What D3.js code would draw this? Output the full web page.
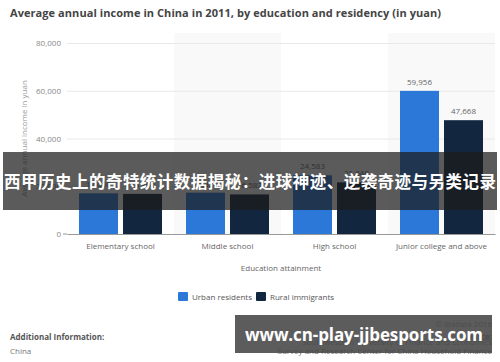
<!DOCTYPE html>
<html>
<head>
<meta charset="utf-8">
<script src="https://cdn.jsdelivr.net/npm/d3@7"></script>
<style>
    html, body { margin:0; padding:0; background:#fff; }
    svg { display:block; font-family:"Open Sans", "Noto Sans", sans-serif; }
</style>
</head>
<body>
<div id="chart"></div>
<script>
// data
var categories = ['Elementary school', 'Middle school', 'High school', 'Junior college and above'];
var seriesNames = ['Urban residents', 'Rural immigrants'];
var seriesColors = ['#2c78d8', '#12263f'];
var urbanValues = [17050, 17320, 24583, 59956];
var ruralValues = [16800, 16582, 21640, 47668];
var yTicks = [0, 20000, 40000, 60000, 80000];

var width = 500, height = 362;
var margin = {left:67, right:5, top:43, bottom:128};

var $svg = d3.select('#chart').append('svg')
    .attr('width', width)
    .attr('height', height);

var scaleX = d3.scaleBand().domain(categories).range([margin.left, width - margin.right]);
var scaleSeries = d3.scaleBand().domain(seriesNames).range([0, scaleX.bandwidth()])
    .paddingInner(0.114).paddingOuter(0.273);
var scaleY = d3.scaleLinear().domain([0, 80000]).range([height - margin.bottom, margin.top]);

//title
$svg.append('text')
    .attr('x', 10).attr('y', 17)
    .attr('textLength', 431)
    .style('font-size', '11px').style('font-weight', 'bold').style('fill', '#444')
    .text('Average annual income in China in 2011, by education and residency (in yuan)');

//alternating bands
$svg.append('g').selectAll('rect')
    .data(categories.filter(function(d, i){ return i % 2 === 1; }))
    .enter().append('rect')
    .attr('x', function(d){ return scaleX(d); })
    .attr('y', 33)
    .attr('width', scaleX.bandwidth())
    .attr('height', scaleY(0) - 33)
    .style('fill', '#f9f9f9');

//axis-y
var axisY = d3.axisLeft(scaleY).tickValues(yTicks)
    .tickSize(-(width - margin.left - margin.right))
    .tickPadding(6)
    .tickFormat(d3.format(','));
var $axisY = $svg.append('g')
    .attr('transform', 'translate(' + margin.left + ',0)')
    .call(axisY);
$axisY.select('.domain').remove();
$axisY.selectAll('line').style('stroke', '#e8e8e8');
$axisY.selectAll('text').style('font-size', '8px').style('fill', '#888').style('font-family', '"Open Sans", sans-serif');
// small tick for zero
$svg.append('line')
    .attr('x1', margin.left - 4).attr('x2', margin.left)
    .attr('y1', scaleY(0)).attr('y2', scaleY(0))
    .style('stroke', '#999');

$svg.append('text')
    .attr('transform', 'translate(27,' + ((scaleY(0) + margin.top) / 2) + ') rotate(-90)')
    .attr('text-anchor', 'middle')
    .style('font-size', '8px').style('fill', '#999')
    .text('Average annual income in yuan');

//bars
var rows = categories.map(function(c, i){
    return [
        {cat:c, name:seriesNames[0], value:urbanValues[i], color:seriesColors[0]},
        {cat:c, name:seriesNames[1], value:ruralValues[i], color:seriesColors[1]}
    ];
});
var $groups = $svg.append('g').selectAll('g')
    .data(rows).enter().append('g')
    .attr('transform', function(d){ return 'translate(' + scaleX(d[0].cat) + ',0)'; });
$groups.selectAll('rect')
    .data(function(d){ return d; })
    .enter().append('rect')
    .attr('x', function(d){ return scaleSeries(d.name); })
    .attr('y', function(d){ return scaleY(d.value); })
    .attr('width', scaleSeries.bandwidth())
    .attr('height', function(d){ return scaleY(0) - scaleY(d.value); })
    .style('fill', function(d){ return d.color; });
$groups.selectAll('text')
    .data(function(d){ return d; })
    .enter().append('text')
    .attr('x', function(d){ return scaleSeries(d.name) + scaleSeries.bandwidth() / 2; })
    .attr('y', function(d){ return scaleY(d.value) - 6; })
    .attr('text-anchor', 'middle')
    .style('font-size', '8px').style('fill', '#666')
    .text(function(d){ return d3.format(',')(d.value); });

//axis-x
var axisX = d3.axisBottom(scaleX).tickSize(0).tickPadding(9);
var $axisX = $svg.append('g')
    .attr('transform', 'translate(0,' + scaleY(0) + ')')
    .call(axisX);
$axisX.select('.domain').style('stroke', '#999');
$axisX.selectAll('text').style('font-size', '8px').style('fill', '#666').style('font-family', '"Open Sans", sans-serif');

$svg.append('text')
    .attr('x', (margin.left + width - margin.right) / 2).attr('y', 271)
    .attr('text-anchor', 'middle')
    .style('font-size', '8px').style('fill', '#666')
    .text('Education attainment');

//legend
var legendX = [178, 256];
var $legend = $svg.append('g').selectAll('g')
    .data(seriesNames).enter().append('g')
    .attr('transform', function(d, i){ return 'translate(' + legendX[i] + ',292)'; });
$legend.append('rect')
    .attr('width', 10).attr('height', 9).attr('rx', 1)
    .style('fill', function(d, i){ return seriesColors[i]; });
$legend.append('text')
    .attr('x', 14).attr('y', 8)
    .style('font-size', '8px').style('fill', '#555')
    .text(function(d){ return d; });

//footer
$svg.append('text').attr('x', 10).attr('y', 340)
    .style('font-size', '8px').style('font-weight', 'bold').style('fill', '#555')
    .text('Additional Information:');
$svg.append('text').attr('x', 10).attr('y', 354)
    .style('font-size', '8px').style('fill', '#777')
    .text('China');
var footRight = [
    {y:327, text:'© Statista 2016', bold:false},
    {y:340, text:'Source:', bold:true},
    {y:345, text:'Southwestern University of Finance and Economics', bold:false},
    {y:354, text:'Survey and Research Center for China Household Finance', bold:false}
];
$svg.append('g').selectAll('text')
    .data(footRight).enter().append('text')
    .attr('x', 492).attr('y', function(d){ return d.y; })
    .attr('text-anchor', 'end')
    .style('font-size', '8px')
    .style('font-weight', function(d){ return d.bold ? 'bold' : 'normal'; })
    .style('fill', '#777')
    .text(function(d){ return d.text; });

//overlay banner
$svg.append('rect')
    .attr('x', 3).attr('y', 152).attr('width', 494).attr('height', 58)
    .style('fill', 'rgba(28,28,28,0.72)');
$svg.append('text')
    .attr('x', 4).attr('y', 188)
    .attr('textLength', 492)
    .style('font-family', '"Noto Sans CJK SC", sans-serif')
    .style('font-size', '16.5px').style('font-weight', 'bold').style('fill', '#fff')
    .text('西甲历史上的奇特统计数据揭秘：进球神迹、逆袭奇迹与另类记录');

//watermark
$svg.append('rect')
    .attr('x', 235).attr('y', 315).attr('width', 257).attr('height', 38)
    .style('fill', 'rgba(70,70,70,0.88)');
$svg.append('text')
    .attr('x', 245).attr('y', 341)
    .attr('textLength', 238)
    .style('font-family', '"Open Sans", sans-serif')
    .style('font-size', '17px').style('font-weight', 'bold').style('fill', '#fff')
    .text('www.cn-play-jjbesports.com');
</script>
</body>
</html>
